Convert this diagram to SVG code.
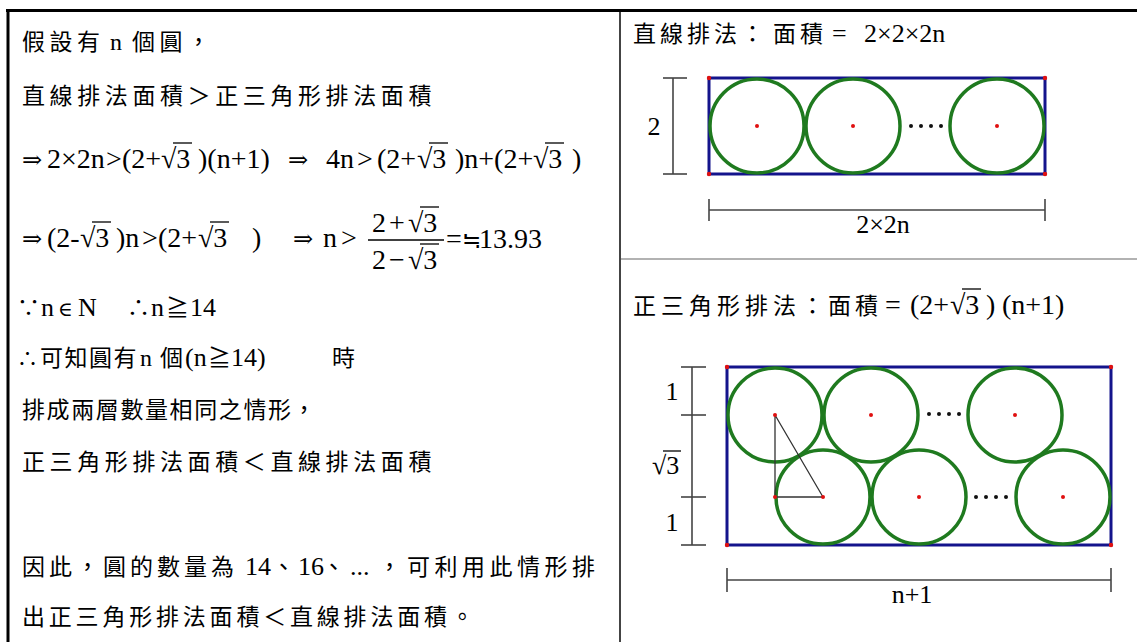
<svg xmlns="http://www.w3.org/2000/svg" width="1137" height="642" viewBox="0 0 1137 642">
<style>
.cj{font-family:"Liberation Serif","Noto Sans CJK TC",serif;font-size:23px;fill:#000}
.m{font-family:"Liberation Serif","DejaVu Serif","Noto Sans CJK TC",serif;font-size:28px;fill:#000}
.ml{font-family:"Liberation Serif","DejaVu Serif",serif;font-size:26px;fill:#000}
.ar{font-family:"DejaVu Serif","Liberation Serif",serif;font-size:24px;fill:#000}
.vin{stroke:#000;stroke-width:1.3}
.dim{stroke:#444;stroke-width:1.6;fill:none}
.box{stroke:#14148c;stroke-width:3;fill:none}
.cir{stroke:#1f7a1f;stroke-width:3.5;fill:none}
.rd{fill:#e01010}
.bk{fill:#111}
.tri{stroke:#333;stroke-width:1.3;fill:none}
</style>
<rect x="0" y="0" width="1137" height="642" fill="#fff"/>
<g id="frame">
<line x1="6" y1="10.5" x2="1137" y2="10.5" stroke="#000" stroke-width="3"/>
<line x1="8" y1="9" x2="8" y2="642" stroke="#000" stroke-width="3"/>
<line x1="620" y1="12" x2="620" y2="642" stroke="#444" stroke-width="2"/>
<line x1="621" y1="259" x2="1137" y2="259" stroke="#999" stroke-width="1.6"/>
</g>
<g id="left-text">
<text class="cj" y="50"><tspan x="22" letter-spacing="4.5">假設有</tspan><tspan x="110" font-size="24">n</tspan><tspan x="132" letter-spacing="4.5">個圓，</tspan></text>
<text class="cj" x="22" y="104" letter-spacing="4.6">直線排法面積＞正三角形排法面積</text>
<g id="line3">
<text class="ar" x="22" y="168">⇒</text>
<text class="m" x="47" y="168">2×2n</text>
<text class="m" x="106" y="168">&gt;</text>
<text class="m" x="122" y="168">(2+</text>
<text class="m" x="161" y="168">√3</text>
<line class="vin" x1="173" y1="143" x2="192" y2="143"/>
<text class="m" x="198" y="168">)(n+1)</text>
<text class="ar" x="288" y="168">⇒</text>
<text class="m" x="326" y="168">4n</text>
<text class="m" x="357" y="168">&gt;</text>
<text class="m" x="377" y="168">(2+</text>
<text class="m" x="417" y="168">√3</text>
<line class="vin" x1="429" y1="143" x2="448" y2="143"/>
<text class="m" x="455" y="168">)n+(2+</text>
<text class="m" x="533" y="168">√3</text>
<line class="vin" x1="545" y1="143" x2="564" y2="143"/>
<text class="m" x="572" y="168">)</text>
</g>
<g id="line4">
<text class="ar" x="22" y="247">⇒</text>
<text class="m" x="47" y="247">(2-</text>
<text class="m" x="80" y="247">√3</text>
<line class="vin" x1="92" y1="222" x2="111" y2="222"/>
<text class="m" x="116" y="247">)n</text>
<text class="m" x="142" y="247">&gt;</text>
<text class="m" x="158" y="247">(2+</text>
<text class="m" x="198" y="247">√3</text>
<line class="vin" x1="210" y1="222" x2="229" y2="222"/>
<text class="m" x="252" y="247">)</text>
<text class="ar" x="293" y="247">⇒</text>
<text class="m" x="323" y="247">n</text>
<text class="m" x="341" y="247">&gt;</text>
<text class="m" x="372" y="232">2</text>
<text class="m" x="389" y="232">+</text>
<text class="m" x="408" y="232">√3</text>
<line class="vin" x1="420" y1="207" x2="439" y2="207"/>
<line class="vin" x1="368" y1="240" x2="444" y2="240"/>
<text class="m" x="372" y="269">2</text>
<text class="m" x="389" y="269">−</text>
<text class="m" x="408" y="269">√3</text>
<line class="vin" x1="420" y1="244" x2="439" y2="244"/>
<text class="m" x="446" y="248">=</text>
<text class="cj" x="462" y="248" font-size="20">≒</text>
<text class="m" x="479" y="248">13.93</text>
</g>
<text class="cj" y="316"><tspan x="17">∵</tspan><tspan x="41" font-size="26">n</tspan><tspan x="58" font-family="DejaVu Serif" font-size="20">∈</tspan><tspan x="78" font-size="26">N</tspan><tspan x="127">∴</tspan><tspan x="151" font-size="26">n</tspan><tspan x="166">≧</tspan><tspan x="190" font-size="26">14</tspan></text>
<text class="cj" y="366"><tspan x="17" font-size="21">∴</tspan><tspan x="40" letter-spacing="1.5">可知圓有</tspan><tspan x="140" font-size="24">n</tspan><tspan x="160">個</tspan><tspan x="185" font-size="26">(n</tspan><tspan x="208">≧</tspan><tspan x="231" font-size="26">14)</tspan><tspan x="332">時</tspan></text>
<text class="cj" x="22" y="418" letter-spacing="1.6">排成兩層數量相同之情形，</text>
<text class="cj" x="22" y="470" letter-spacing="4.6">正三角形排法面積＜直線排法面積</text>
<text class="cj" y="575"><tspan x="22" letter-spacing="4">因此，圓的數量為</tspan><tspan x="245" font-size="26">14</tspan><tspan x="272">、</tspan><tspan x="298" font-size="26">16</tspan><tspan x="322">、</tspan><tspan x="350" font-size="26">...</tspan><tspan x="378">，</tspan><tspan x="407" letter-spacing="4.5">可利用此情形排</tspan></text>
<text class="cj" x="22" y="625" letter-spacing="3.8">出正三角形排法面積＜直線排法面積。</text>
</g>
<g id="linear-title">
<text class="cj" y="42"><tspan x="633" letter-spacing="4">直線排法：</tspan><tspan x="773" letter-spacing="4">面積</tspan></text>
<text class="ml" x="832" y="42">=</text>
<text class="ml" x="864" y="42" font-size="27">2×2×2n</text>
</g>
<g id="linear-diagram">
<rect class="box" x="709" y="78" width="336" height="96"/>
<circle class="cir" cx="757" cy="126" r="47"/>
<circle class="cir" cx="853" cy="126" r="47"/>
<circle class="cir" cx="997" cy="126" r="47"/>
<circle class="rd" cx="757" cy="126" r="2"/>
<circle class="rd" cx="853" cy="126" r="2"/>
<circle class="rd" cx="997" cy="126" r="2"/>
<circle class="bk" cx="911" cy="126" r="2"/>
<circle class="bk" cx="921" cy="126" r="2"/>
<circle class="bk" cx="931" cy="126" r="2"/>
<circle class="bk" cx="941" cy="126" r="2"/>
<circle class="rd" cx="709" cy="78" r="2.2"/>
<circle class="rd" cx="1045" cy="78" r="2.2"/>
<circle class="rd" cx="709" cy="174" r="2.2"/>
<circle class="rd" cx="1045" cy="174" r="2.2"/>
</g>
<g id="linear-dims">
<line class="dim" x1="673" y1="78" x2="673" y2="174"/>
<line class="dim" x1="663" y1="78" x2="687" y2="78"/>
<line class="dim" x1="663" y1="174" x2="687" y2="174"/>
<text class="ml" x="654" y="135" text-anchor="middle">2</text>
<line class="dim" x1="709" y1="210" x2="1045" y2="210"/>
<line class="dim" x1="709" y1="199" x2="709" y2="221"/>
<line class="dim" x1="1045" y1="199" x2="1045" y2="221"/>
<text class="ml" x="883" y="233" text-anchor="middle" font-size="24">2×2n</text>
</g>
<g id="tri-title">
<text class="cj" y="314"><tspan x="633" letter-spacing="5">正三角形排法：</tspan><tspan x="828" letter-spacing="4">面積</tspan></text>
<text class="m" x="885" y="314">=</text>
<text class="m" x="910" y="314">(2+</text>
<text class="m" x="950" y="314">√3</text>
<line class="vin" x1="962" y1="289" x2="981" y2="289"/>
<text class="m" x="986" y="314">)</text>
<text class="m" x="1002" y="314">(n+1)</text>
</g>
<g id="tri-diagram">
<rect class="box" x="727" y="367" width="384" height="178"/>
<circle class="cir" cx="775" cy="415" r="47"/>
<circle class="cir" cx="871" cy="415" r="47"/>
<circle class="cir" cx="1015" cy="415" r="47"/>
<circle class="cir" cx="823" cy="497" r="47"/>
<circle class="cir" cx="919" cy="497" r="47"/>
<circle class="cir" cx="1063" cy="497" r="47"/>
<polyline class="tri" points="775,415 775,497 823,497 775,415"/>
<circle class="rd" cx="775" cy="415" r="2"/>
<circle class="rd" cx="871" cy="415" r="2"/>
<circle class="rd" cx="1015" cy="415" r="2"/>
<circle class="rd" cx="775" cy="497" r="2"/>
<circle class="rd" cx="823" cy="497" r="2"/>
<circle class="rd" cx="919" cy="497" r="2"/>
<circle class="rd" cx="1063" cy="497" r="2"/>
<circle class="bk" cx="929" cy="414" r="2"/>
<circle class="bk" cx="939" cy="414" r="2"/>
<circle class="bk" cx="949" cy="414" r="2"/>
<circle class="bk" cx="959" cy="414" r="2"/>
<circle class="bk" cx="976" cy="497" r="2"/>
<circle class="bk" cx="986" cy="497" r="2"/>
<circle class="bk" cx="996" cy="497" r="2"/>
<circle class="bk" cx="1006" cy="497" r="2"/>
<circle class="rd" cx="727" cy="367" r="2.2"/>
<circle class="rd" cx="1111" cy="367" r="2.2"/>
<circle class="rd" cx="727" cy="545" r="2.2"/>
<circle class="rd" cx="1111" cy="545" r="2.2"/>
</g>
<g id="tri-dims">
<line class="dim" x1="692" y1="367" x2="692" y2="545"/>
<line class="dim" x1="681" y1="367" x2="706" y2="367"/>
<line class="dim" x1="681" y1="415" x2="706" y2="415"/>
<line class="dim" x1="681" y1="497" x2="706" y2="497"/>
<line class="dim" x1="681" y1="545" x2="706" y2="545"/>
<text class="ml" x="672" y="400" text-anchor="middle">1</text>
<text class="ml" x="652" y="474">√3</text>
<line class="vin" x1="663" y1="451" x2="681" y2="451"/>
<text class="ml" x="672" y="531" text-anchor="middle">1</text>
<line class="dim" x1="727" y1="580" x2="1111" y2="580"/>
<line class="dim" x1="727" y1="568" x2="727" y2="592"/>
<line class="dim" x1="1111" y1="568" x2="1111" y2="592"/>
<text class="ml" x="912" y="603" text-anchor="middle">n+1</text>
</g>
</svg>
